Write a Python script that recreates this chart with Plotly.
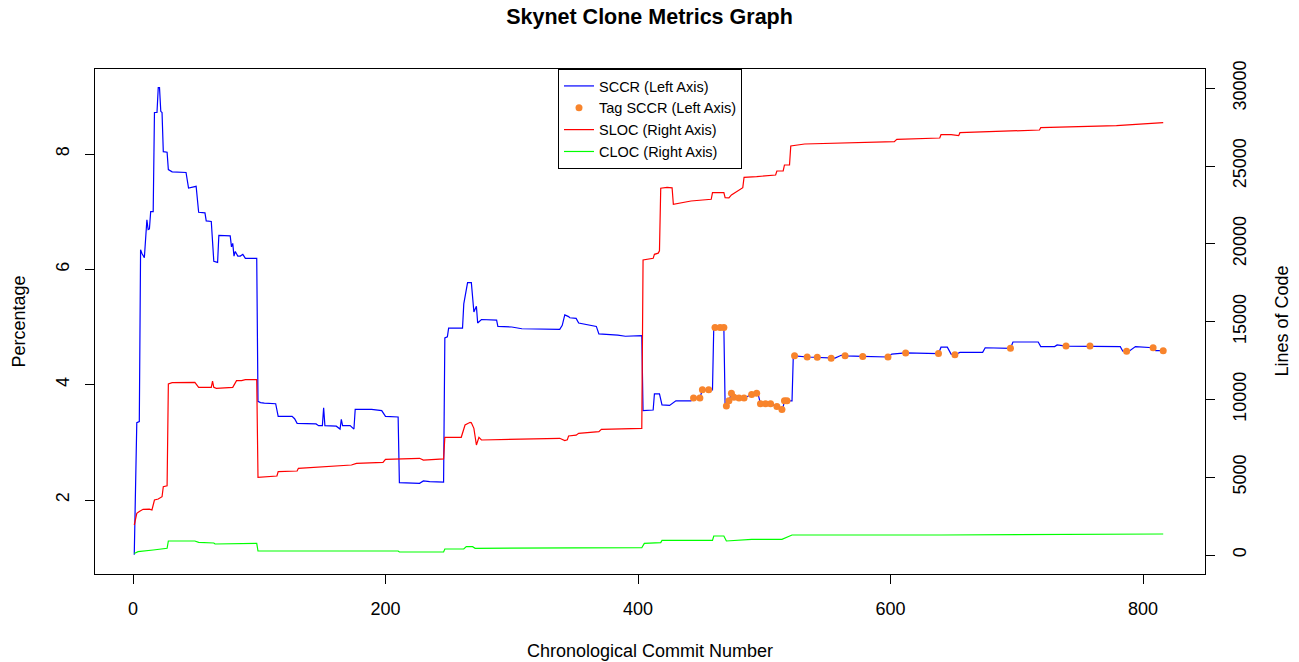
import plotly.graph_objects as go

# ---- data ----
sccr_x = [1,3,5,6,7,9,11,12,13,14,16,17,19,20,21,22,23,24,27,28,31,42,44,50,52,57,58,62,64,67,68,77,78,79,80,81,83,85,87,89,98,
          99,101,104,113,115,126,128,130,145,147,150,151,152,161,164,165,166,172,175,176,189,197,200,210,211,227,230,235,246,
          247,249,250,261,262,265,268,270,272,273,276,288,289,300,308,338,340,342,345,346,351,353,367,369,384,390,403,
          404,412,413,417,419,425,428,430,442,444,449,451,456,459,460,468,469,470,472,474,476,480,484,490,494,495,497,501,505,
          510,514,515,516,518,522,523,524,534,542,549,553,556,561,564,578,598,601,612,638,640,645,648,651,655,673,675,695,697,
          717,719,730,732,739,758,782,784,787,789,794,808,810,816]
sccr_y = [1.05,3.34,3.36,6.34,6.28,6.2,6.86,6.69,6.70,7.0,7.0,8.72,8.72,9.15,9.15,8.74,8.72,8.04,8.03,7.73,7.69,7.68,7.41,7.44,6.99,6.98,6.84,6.83,6.14,6.12,6.59,6.58,6.39,6.45,6.23,6.31,6.23,6.23,6.26,6.19,6.19,
          3.71,3.69,3.68,3.67,3.45,3.45,3.41,3.33,3.32,3.29,3.29,3.6,3.29,3.28,3.23,3.40,3.29,3.29,3.23,3.57,3.57,3.55,3.45,3.44,2.30,2.29,2.33,2.32,2.31,
          4.81,4.83,4.98,4.98,5.40,5.77,5.77,5.26,5.36,5.07,5.13,5.12,5.01,5.0,4.97,4.96,5.03,5.21,5.18,5.16,5.15,5.07,5.01,4.88,4.86,4.84,4.85,
          3.55,3.56,3.84,3.84,3.65,3.64,3.68,3.72,3.72,3.77,3.77,3.91,3.91,3.91,4.99,4.99,3.63,3.63,3.72,3.85,3.78,3.77,3.77,3.83,3.85,3.85,3.67,3.67,3.67,
          3.62,3.57,3.62,3.72,3.72,3.72,4.50,4.50,4.48,4.475,4.47,4.46,4.46,4.51,4.50,4.49,4.48,4.53,4.55,4.54,4.65,4.65,4.53,4.52,4.56,4.56,4.64,4.63,4.74,
          4.74,4.66,4.66,4.69,4.67,4.67,4.66,4.58,4.58,4.58,4.66,4.64,4.59,4.59]

tag_x = [444,449,451,456,461,465,468,470,472,474,476,480,484,490,494,497,501,505,510,514,516,518,
         524,534,542,553,564,578,598,612,638,651,695,739,758,787,808,816]
tag_y = [3.77,3.77,3.91,3.91,4.99,4.99,4.99,3.63,3.72,3.85,3.78,3.77,3.77,3.83,3.85,3.67,3.67,3.67,3.62,3.57,3.72,3.72,
         4.50,4.48,4.475,4.46,4.50,4.49,4.48,4.55,4.54,4.52,4.63,4.67,4.67,4.58,4.64,4.59]

sloc_x = [1,3,5,8,13,15,17,20,23,24,27,28,31,49,52,62,63,64,66,79,82,86,89,98,99,114,115,130,131,173,177,198,200,227,230,246,
          247,260,263,267,268,270,272,274,276,338,342,344,345,351,353,369,371,403,404,412,413,416,417,418,423,427,428,442,458,459,
          468,469,472,474,483,484,494,509,510,515,516,520,521,532,603,605,639,640,648,654,655,718,719,779,816]
sloc_y = [1928,2680,2800,2937,2950,2892,3535,3600,3747,4390,4450,10990,11074,11100,10778,10778,11177,10778,10714,10778,11202,11202,11267,11267,
          4993,5077,5355,5400,5570,5784,5891,5950,6150,6215,6100,6172,7565,7565,8355,8528,8500,8143,7070,7565,7391,7500,7356,7400,7648,7700,
          7820,7927,8080,8143,18960,19066,19324,19400,19550,23568,23632,23600,22540,22752,22862,23286,23286,22963,22950,23140,23606,24275,
          24318,24423,24680,24680,25065,25065,26286,26415,26563,26716,26800,27013,27013,26950,27141,27315,27462,27591,27784]

cloc_x = [1,4,16,27,28,49,52,64,65,98,99,210,211,246,247,262,264,269,271,300,403,405,418,419,459,460,468,470,490,514,522,640,700,816]
cloc_y = [100,214,321,430,900,900,815,771,707,750,257,257,193,193,385,385,535,535,428,440,470,750,800,943,943,1221,1221,900,1007,1007,
          1285,1285,1320,1350]

left_ticks = [2, 4, 6, 8]
right_ticks = [0, 5000, 10000, 15000, 20000, 25000, 30000]
x_ticks = [0, 200, 400, 600, 800]

FONT = "Liberation Sans, Arial, Helvetica, sans-serif"
BASE = 18

fig = go.Figure()
fig.add_trace(go.Scatter(x=sccr_x, y=sccr_y, mode="lines", name="SCCR (Left Axis)",
                         line=dict(color="#0000FF", width=1.2)))
fig.add_trace(go.Scatter(x=tag_x, y=tag_y, mode="markers", name="Tag SCCR (Left Axis)",
                         marker=dict(color="#F8842C", size=7)))
fig.add_trace(go.Scatter(x=sloc_x, y=sloc_y, mode="lines", name="SLOC (Right Axis)", yaxis="y2",
                         line=dict(color="#FF0000", width=1.2)))
fig.add_trace(go.Scatter(x=cloc_x, y=cloc_y, mode="lines", name="CLOC (Right Axis)", yaxis="y2",
                         line=dict(color="#00FF00", width=1.2)))

axis_common = dict(showgrid=False, zeroline=False, showline=True, linecolor="black", linewidth=1,
                   ticks="outside", ticklen=9, tickcolor="black", tickwidth=1,
                   tickfont=dict(family=FONT, size=BASE, color="black"))

fig.update_layout(
    width=1299, height=662,
    margin=dict(l=95, r=94, t=69, b=88),
    paper_bgcolor="white", plot_bgcolor="white",
    font=dict(family=FONT, size=BASE, color="black"),
    title=dict(text="<b>Skynet Clone Metrics Graph</b>", x=0.5, xanchor="center", y=1 - 16/662, yanchor="middle",
               font=dict(family=FONT, size=21.5, color="black")),
    xaxis=dict(range=[-30.1, 849.1], tickvals=x_ticks, mirror=True, ticklabelstandoff=9, **axis_common),
    yaxis=dict(range=[0.717, 9.474], tickvals=left_ticks, tickangle=-90, mirror=True, ticklabelstandoff=9, **axis_common),
    yaxis2=dict(range=[-1221, 31234], tickvals=right_ticks, tickformat="d", overlaying="y", side="right", tickangle=-90,
                ticklabelstandoff=9, **axis_common),
    legend=dict(x=0.5, xanchor="center", y=1, yanchor="top", bordercolor="black", borderwidth=1,
                bgcolor="white", font=dict(family=FONT, size=14.5, color="black"), tracegroupgap=0,
                itemwidth=30),
    showlegend=True,
    annotations=[
        dict(text="Chronological Commit Number", xref="paper", yref="paper", x=0.5, y=(574 - 651) / 505,
             xanchor="center", yanchor="middle", showarrow=False, font=dict(family=FONT, size=BASE, color="black")),
        dict(text="Percentage", xref="paper", yref="paper", x=(18 - 95) / 1110, y=0.5, textangle=-90,
             xanchor="center", yanchor="middle", showarrow=False, font=dict(family=FONT, size=BASE, color="black")),
        dict(text="Lines of Code", xref="paper", yref="paper", x=(1281 - 95) / 1110, y=0.5, textangle=-90,
             xanchor="center", yanchor="middle", showarrow=False, font=dict(family=FONT, size=BASE, color="black")),
    ],
)

fig.write_html("out.html")
